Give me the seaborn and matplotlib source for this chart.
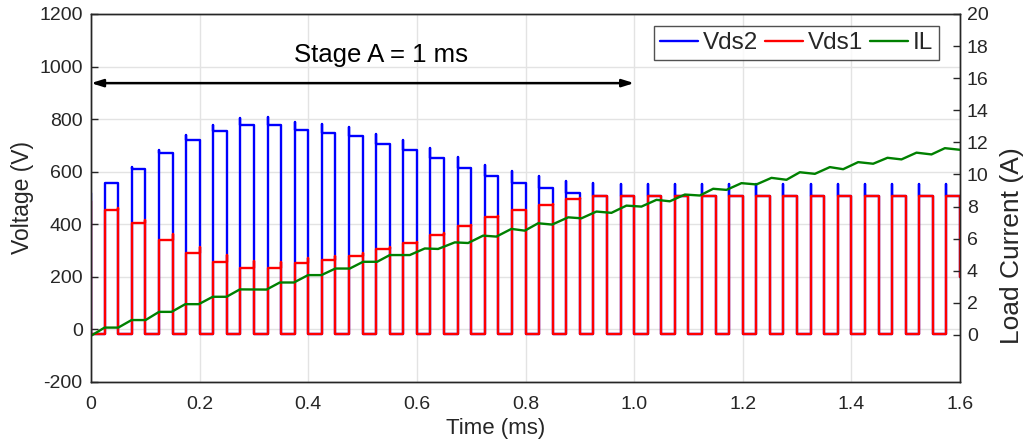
import numpy as np
import pandas as pd
import matplotlib
matplotlib.use("Agg")
import matplotlib.pyplot as plt
import seaborn as sns

# switching waveform: one pulse per 0.05 ms period, high during the 2nd half
period_ms = 0.05
n_pulses = 32
v_low = -19
vds2_start, vds1_start = 519, 487   # values at t = 0
v_end = 200                         # last sample at t = 1.6 ms

# Vds2 flat top and turn-on spike of each pulse (V)
vds2_top = [557, 610, 671, 722, 756, 778, 778, 759, 747, 737, 705, 684, 652, 616, 585, 557,
            538, 519, 509, 506, 506, 506, 506, 506, 506, 506, 506, 506, 506, 506, 506, 506]
vds2_spike = [557, 618, 681, 741, 777, 803, 808, 790, 782, 772, 744, 722, 690, 656, 625, 601,
              582, 566, 557, 552, 552, 552, 552, 552, 552, 552, 552, 552, 552, 552, 552, 552]

# Vds1 flat top and turn-off bump of each pulse (V)
vds1_top = [456, 403, 342, 289, 256, 233, 232, 252, 265, 278, 305, 327, 361, 395, 427, 453,
            475, 497, 506, 506, 506, 506, 506, 506, 506, 506, 506, 506, 506, 506, 506, 506]
vds1_spike = [462, 415, 362, 313, 282, 262, 257, 273, 281, 289, 313, 332, 366, 398, 430, 456,
              478, 499, 508, 508, 508, 508, 508, 508, 508, 508, 508, 508, 508, 508, 508, 508]

# load current
il_time = [0.0, 0.0249, 0.0501, 0.0746, 0.1004, 0.1252, 0.1483, 0.1735, 0.1983, 0.2241,
           0.2495, 0.274, 0.3232, 0.3475, 0.3735, 0.3996, 0.4241, 0.4499, 0.4764, 0.5009,
           0.5267, 0.5501, 0.5869, 0.6145, 0.639, 0.6698, 0.6943, 0.7219, 0.7464, 0.774,
           0.7987, 0.8232, 0.849, 0.8785, 0.903, 0.9306, 0.9582, 0.9858, 1.0134, 1.0411,
           1.0657, 1.0934, 1.121, 1.1455, 1.17, 1.1976, 1.2252, 1.2529, 1.2805, 1.3051,
           1.3328, 1.3604, 1.3849, 1.4125, 1.4401, 1.4665, 1.4923, 1.5199, 1.5475, 1.5722,
           1.5998]
il_amp = [-0.05, 0.46, 0.46, 0.93, 0.93, 1.44, 1.44, 1.92, 1.92, 2.38,
          2.38, 2.84, 2.83, 3.27, 3.27, 3.73, 3.73, 4.14, 4.14, 4.56,
          4.56, 4.98, 4.98, 5.39, 5.36, 5.77, 5.73, 6.19, 6.13, 6.61,
          6.5, 6.96, 6.88, 7.33, 7.27, 7.69, 7.61, 8.06, 8.0, 8.42,
          8.33, 8.75, 8.69, 9.11, 9.04, 9.46, 9.38, 9.79, 9.67, 10.14,
          10.04, 10.46, 10.33, 10.77, 10.67, 11.04, 10.94, 11.36, 11.25, 11.64,
          11.54]

stage_a = (0.0, 1.0)
x_ticks = [0, 0.2, 0.4, 0.6, 0.8, 1.0, 1.2, 1.4, 1.6]
x_labels = ['0', '0.2', '0.4', '0.6', '0.8', '1.0', '1.2', '1.4', '1.6']


def build_wave(start, top, spike, spike_on_rise):
    t, v = [0.0, 0.0], [start, v_low]
    for k in range(n_pulses):
        on = period_ms * k + period_ms / 2
        off = period_ms * (k + 1)
        if spike_on_rise:
            t += [on, on, on, off, off]
            v += [v_low, spike[k], top[k], top[k], v_low]
        else:
            t += [on, on, off, off, off]
            v += [v_low, top[k], top[k], spike[k], v_low]
    v[-1] = v_end
    return pd.DataFrame({'t': t, 'v': v})


vds2 = build_wave(vds2_start, vds2_top, vds2_spike, True)
vds1 = build_wave(vds1_start, vds1_top, vds1_spike, False)
il = pd.DataFrame({'t': il_time, 'i': il_amp})

sns.set_style("whitegrid")
plt.rcParams['font.family'] = ['Liberation Sans', 'DejaVu Sans']
plt.rcParams['axes.unicode_minus'] = False
ink = '#262626'

fig, ax1 = plt.subplots(figsize=(10.23, 4.43), dpi=100)
fig.subplots_adjust(left=0.089, right=0.9384, top=0.9684, bottom=0.1377)
ax2 = ax1.twinx()

sns.lineplot(data=vds2, x='t', y='v', sort=False, estimator=None, color='#0000ff',
             lw=1.7, ax=ax1, legend=False)
sns.lineplot(data=vds1, x='t', y='v', sort=False, estimator=None, color='#ff0000',
             lw=1.7, ax=ax1, legend=False)
sns.lineplot(data=il, x='t', y='i', sort=False, estimator=None, color='#008000',
             lw=1.7, ax=ax2, legend=False)

ax1.set_xlim(0, 1.6)
ax1.set_ylim(-200, 1200)
ax2.set_ylim(-2.93, 20)
ax1.set_xticks(x_ticks)
ax1.set_xticklabels(x_labels)
ax1.set_yticks(range(-200, 1201, 200))
ax2.set_yticks(range(0, 21, 2))
ax2.grid(False)
ax1.grid(True, color='#e3e3e3', lw=1)

for ax in (ax1, ax2):
    ax.tick_params(direction='in', length=5, width=1, colors=ink, labelsize=14)
    for sp in ax.spines.values():
        sp.set_color(ink)
        sp.set_linewidth(1)
ax1.tick_params(axis='x', pad=10)
ax1.tick_params(axis='y', pad=6)
ax2.tick_params(axis='y', pad=5)

ax1.set_xlabel('Time (ms)', fontsize=16, color=ink)
ax1.xaxis.set_label_coords(0.466, -0.098)
ax1.set_ylabel('Voltage (V)', fontsize=16.5, color=ink, labelpad=4)
ax2.set_ylabel('Load Current (A)', fontsize=19, color=ink)
ax2.yaxis.set_label_coords(1.046, 0.37)

ax1.annotate('', xy=(stage_a[0], 937), xytext=(stage_a[1], 937),
             arrowprops=dict(arrowstyle='<|-|>,head_length=0.7,head_width=0.22',
                             color='k', lw=1.8, shrinkA=0, shrinkB=0))
ax1.text(0.534, 1045, 'Stage A = 1 ms', ha='center', va='center', fontsize=18.5, color='k')

handles = [ax1.get_lines()[0], ax1.get_lines()[1], ax2.get_lines()[0]]
leg = ax2.legend(handles, ['Vds2', 'Vds1', 'IL'], loc='upper right', ncol=3,
                 bbox_to_anchor=(0.9758, 0.9674), borderaxespad=0, fontsize=17.5,
                 frameon=True, fancybox=False, handlelength=1.55, handletextpad=0.2,
                 columnspacing=0.3, borderpad=0.25)
leg.get_frame().set_edgecolor(ink)
leg.get_frame().set_linewidth(1)

fig.savefig('out.png', dpi=100)
